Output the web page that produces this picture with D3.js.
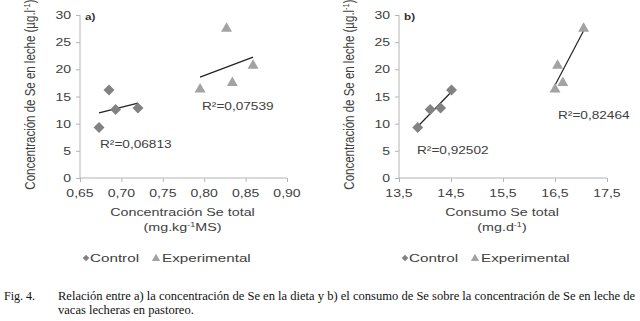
<!DOCTYPE html>
<html>
<head>
<meta charset="utf-8">
<script src="https://cdn.jsdelivr.net/npm/d3@7"></script>
<style>
  body { margin: 0; background: #fff; }
  svg { display: block; }
</style>
</head>
<body>
<svg id="chart" width="640" height="321"></svg>
<script>
// values
const ctrlConc = [0.673, 0.685, 0.693, 0.720];
const ctrlIntake = [13.86, 14.51, 14.10, 14.30];
const ctrlMilk = [9.3, 16.2, 12.6, 12.9];
const expConc = [0.795, 0.827, 0.834, 0.859];
const expIntake = [16.50, 17.05, 16.65, 16.55];
const expMilk = [16.3, 27.5, 17.5, 20.7];

const concTicks = [0.65, 0.70, 0.75, 0.80, 0.85, 0.90];
const intakeTicks = [13.5, 14.5, 15.5, 16.5, 17.5];
const milkTicks = [0, 5, 10, 15, 20, 25, 30];

const r2Conc = ['R²=0,06813', 'R²=0,07539'];
const r2Intake = ['R²=0,92502', 'R²=0,82464'];
const legendLabels = ['Control', 'Experimental'];

const SX = 1.3;            // the scanned figure is stretched horizontally
const FONT = '"Liberation Sans", Arial, sans-serif';
const AXIS_COLOR = '#b4b4b4';
const TEXT_COLOR = '#404040';
const CTRL_COLOR = '#828282';
const EXP_COLOR = '#a3a3a3';

const svg = d3.select('#chart');
const fmt = d => d.toFixed(2).replace('.', ',');
const fmt1 = d => d.toFixed(1).replace('.', ',');

function stext(g, x, y, str, anchor, size, sx) {
    return g.append('text')
        .attr('transform', `translate(${x},${y}) scale(${sx || SX},1)`)
        .attr('text-anchor', anchor || 'start')
        .style('font-family', FONT)
        .style('font-size', (size || 10.5) + 'px')
        .style('fill', TEXT_COLOR)
        .text(str);
}

function fitLine(xs, ys) {
    const mx = d3.mean(xs), my = d3.mean(ys);
    const sxy = d3.sum(xs, (x, i) => (x - mx) * (ys[i] - my));
    const sxx = d3.sum(xs, x => (x - mx) * (x - mx));
    const b = sxy / sxx;
    const x0 = d3.min(xs), x1 = d3.max(xs);
    return [[x0, my + b * (x0 - mx)], [x1, my + b * (x1 - mx)]];
}

const diamond = d3.symbol().type(d3.symbolSquare).size(60);
const triangle = d3.symbol().type(d3.symbolTriangle).size(52);

function panel(opts) {
    const g = svg.append('g');
    const x = d3.scaleLinear().domain(opts.xDomain).range(opts.xRange);
    const y = d3.scaleLinear().domain([0, 30]).range([178, 15]);

    // axes
    g.append('line')
        .attr('x1', opts.xRange[0]).attr('x2', opts.xRange[0])
        .attr('y1', y(0)).attr('y2', y(30))
        .attr('stroke', AXIS_COLOR);
    g.append('line')
        .attr('x1', opts.xRange[0]).attr('x2', opts.xRange[1])
        .attr('y1', y(0)).attr('y2', y(0))
        .attr('stroke', AXIS_COLOR);

    g.selectAll('.ytick').data(milkTicks).enter().append('line')
        .attr('x1', opts.xRange[0] - 4).attr('x2', opts.xRange[0])
        .attr('y1', d => y(d) + 0.5).attr('y2', d => y(d) + 0.5)
        .attr('stroke', AXIS_COLOR);
    milkTicks.forEach(d => stext(g, opts.xRange[0] - 9, y(d) + 4, String(d), 'end', 10.8));

    g.selectAll('.xtick').data(opts.ticks).enter().append('line')
        .attr('x1', d => x(d) + 0.5).attr('x2', d => x(d) + 0.5)
        .attr('y1', y(0)).attr('y2', y(0) + 4)
        .attr('stroke', AXIS_COLOR);
    opts.ticks.forEach(d => stext(g, x(d), 197, opts.fmt(d), 'middle', 10.8));

    // titles
    const cx = (opts.xRange[0] + opts.xRange[1]) / 2 - 1;
    stext(g, cx, 216, opts.xTitle, 'middle', 11);
    const sub = stext(g, cx, 231, '', 'middle', 11);
    sub.append('tspan').text(opts.xUnit[0]);
    sub.append('tspan').attr('dy', -4).style('font-size', '7px').text('-1');
    sub.append('tspan').attr('dy', 4).text(opts.xUnit[1]);

    const yt = g.append('text')
        .attr('transform', `translate(${opts.xRange[0] - 45},${y(15) - 2}) scale(${SX},1) rotate(-90)`)
        .attr('text-anchor', 'middle')
        .style('font-family', FONT)
        .style('font-size', '11.5px')
        .style('fill', TEXT_COLOR);
    yt.append('tspan').text('Concentración de Se en leche (µg.l');
    yt.append('tspan').attr('dy', -4).style('font-size', '7.5px').text('-1');
    yt.append('tspan').attr('dy', 4).text(')');

    g.append('text')
        .attr('transform', `translate(${opts.xRange[0] + 5},20) scale(${SX},1)`)
        .style('font-family', FONT)
        .style('font-size', '9px')
        .style('font-weight', 'bold')
        .style('fill', '#333')
        .text(opts.tag);

    // trend lines
    const line = d3.line().x(d => x(d[0])).y(d => y(d[1]));
    [fitLine(opts.ctrlX, ctrlMilk), fitLine(opts.expX, expMilk)].forEach(seg => {
        g.append('path').attr('d', line(seg))
            .attr('fill', 'none').attr('stroke', '#222').attr('stroke-width', 1.2);
    });

    // points
    g.selectAll('.ctrl').data(opts.ctrlX).enter().append('path')
        .attr('d', diamond)
        .attr('transform', (d, i) => `translate(${x(d)},${y(ctrlMilk[i])}) rotate(45)`)
        .attr('fill', CTRL_COLOR);
    g.selectAll('.exp').data(opts.expX).enter().append('path')
        .attr('d', triangle)
        .attr('transform', (d, i) => `translate(${x(d)},${y(expMilk[i])})`)
        .attr('fill', EXP_COLOR);

    // R² labels
    stext(g, opts.r2Pos[0][0], opts.r2Pos[0][1], opts.r2[0]);
    stext(g, opts.r2Pos[1][0], opts.r2Pos[1][1], opts.r2[1]);

    // legend
    const lx = opts.legendX;
    g.append('path').attr('d', d3.symbol().type(d3.symbolSquare).size(22))
        .attr('transform', `translate(${lx},258) rotate(45)`).attr('fill', CTRL_COLOR);
    stext(g, lx + 4, 262, legendLabels[0], 'start', 10.5, 1.45);
    g.append('path').attr('d', d3.symbol().type(d3.symbolTriangle).size(30))
        .attr('transform', `translate(${lx + 70},258.5)`).attr('fill', EXP_COLOR);
    stext(g, lx + 76, 262, legendLabels[1], 'start', 10.5, 1.45);
}

panel({
    xDomain: [0.65, 0.90], xRange: [80, 287], ticks: concTicks, fmt: fmt,
    xTitle: 'Concentración Se total', xUnit: ['(mg.kg', 'MS)'], tag: 'a)',
    ctrlX: ctrlConc, expX: expConc,
    r2: r2Conc, r2Pos: [[100, 148], [202, 110]],
    legendX: 86
});

panel({
    xDomain: [13.5, 17.5], xRange: [399, 607], ticks: intakeTicks, fmt: fmt1,
    xTitle: 'Consumo Se total', xUnit: ['(mg.d', ')'], tag: 'b)',
    ctrlX: ctrlIntake, expX: expIntake,
    r2: r2Intake, r2Pos: [[417, 154], [558, 119]],
    legendX: 405
});

// caption
const cap = svg.append('g').style('font-family', '"Liberation Serif", "Times New Roman", serif')
    .style('font-size', '12px').style('fill', '#111');
cap.append('text').attr('x', 4).attr('y', 300).text('Fig. 4.');
const l1 = cap.append('text').attr('y', 300)
    .text('Relación entre a) la concentración de Se en la dieta y b) el consumo de Se sobre la concentración de Se en leche de');
const capScale = 578 / l1.node().getComputedTextLength();
l1.attr('transform', `translate(58,0) scale(${capScale},1)`);
cap.append('text').attr('y', 314).attr('transform', `translate(58,0) scale(${capScale},1)`)
    .text('vacas lecheras en pastoreo.');
</script>
</body>
</html>
